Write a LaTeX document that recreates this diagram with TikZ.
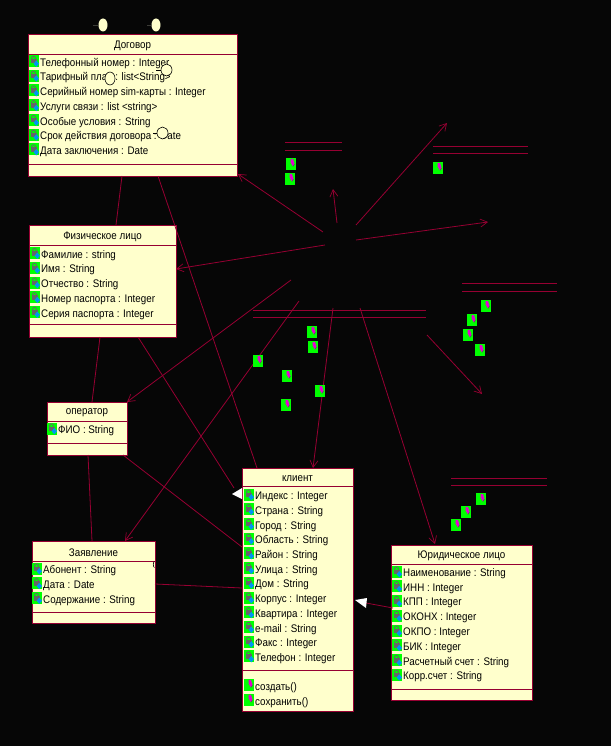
\documentclass[tikz,border=0pt]{standalone}
\usepackage{fontspec}
\setmainfont[FakeStretch=0.89]{Liberation Sans}
\usetikzlibrary{arrows.meta}
\definecolor{bgc}{RGB}{6,6,6}
\definecolor{linec}{RGB}{150,0,50}
\definecolor{boxc}{RGB}{255,255,204}
\definecolor{iconc}{RGB}{0,255,0}
\definecolor{magc}{RGB}{230,0,210}
\definecolor{bluec}{RGB}{0,150,240}
\definecolor{stemc}{RGB}{60,60,55}
\newcommand{\rowfont}{\fontsize{11}{12}\selectfont}
\tikzset{
  classbox/.style={draw=linec,fill=boxc,line width=0.9pt,anchor=north west,inner sep=0pt,outer sep=0pt},
  rowtext/.style={anchor=west,inner sep=0pt,text=black,font=\rowfont},
  titletext/.style={anchor=center,inner sep=0pt,text=black,font=\rowfont},
  conn/.style={draw=linec,line width=0.8pt},
  openarrow/.style={conn,-{Straight Barb[length=7pt,width=8pt,line width=0.7pt]}},
  sepline/.style={conn},
  iconbg/.style={fill=iconc,draw=none},
  interface/.style={draw=black,fill=boxc,line width=0.6pt},
  topiface/.style={draw=none,fill=boxc},
}
% class: name, x, y, width, height, sep1, sep2, title
\newcommand{\umlclass}[8]{%
  \node[classbox,minimum width=#4pt,minimum height=#5pt] (#1) at (#2,#3) {};
  \draw[sepline] (#2,#6) -- ++(#4,0);
  \draw[sepline] (#2,#7) -- ++(#4,0);
  \node[titletext] (#1title) at ({#2+#4/2},{(#3+#6)/2+1.5}) {#8};
}
\newcommand{\attricon}[2]{%
  \fill[iconbg] (#1,#2-7.5) rectangle ++(10,12);
  \fill[black!60] (#1+1.5,#2-3.5) rectangle ++(6,4.5);
  \draw[black!60,line width=0.8pt] (#1+4.5,#2-4.2) circle (2);
  \fill[bluec] (#1+7.3,#2-2) -- ++(2.7,3.2) -- ++(-2.7,3.2) -- ++(-2.7,-3.2) -- cycle;
}
\newcommand{\opicon}[2]{%
  \fill[iconbg] (#1,#2-6) rectangle ++(10,12);
  \fill[magc] (#1+4.5,#2-5) -- ++(2.5,0) -- ++(1.5,5) -- ++(-1.5,2.5) -- ++(-2.5,-4) -- cycle;
  \draw[black!70,line width=0.4pt] (#1+8.5,#2) -- ++(-1.5,2.5);
}
% rows: name, text x, first y, step, list
\newcommand{\attrrows}[5]{%
  \foreach \t [count=\i from 0] in {#5} {
    \attricon{#2-11}{#3+#4*\i}
    \node[rowtext] (#1row\i) at (#2,{#3+#4*\i+0.8}) {\t};
  }
}
\newcommand{\oprows}[5]{%
  \foreach \t [count=\i from 0] in {#5} {
    \opicon{#2-11}{#3+#4*\i-2}
    \node[rowtext] (#1row\i) at (#2,{#3+#4*\i+0.8}) {\t};
  }
}
\begin{document}
\begin{tikzpicture}[x=1pt,y=-1pt]
\fill[bgc] (0,0) rectangle (611,746);
\useasboundingbox (0,0) rectangle (611,746);

% free connector ends
\coordinate (a) at (323,232);
\coordinate (b) at (337,223);
\coordinate (bt) at (333,189);
\coordinate (c) at (356,225);
\coordinate (ct) at (447,123);
\coordinate (d) at (356,240);
\coordinate (dt) at (488,222);
\coordinate (e) at (325,245);
\coordinate (f) at (291,280);
\coordinate (g) at (299,301);
\coordinate (h) at (333,308);
\coordinate (i) at (360,308);
\coordinate (j) at (427,335);
\coordinate (jt) at (482,394);

\umlclass{dog}{28}{34}{209}{142}{54}{164}{Договор}
\umlclass{fiz}{29}{225}{147}{112}{245}{324}{Физическое лицо}
\umlclass{oper}{47}{402}{80}{53}{421}{443}{оператор}
\umlclass{zay}{32}{541}{123}{82}{561}{612}{Заявление}
\umlclass{kli}{242}{468}{111}{243}{486}{670}{клиент}
\umlclass{yur}{391}{545}{141}{155}{564}{689}{Юридическое лицо}

% connectors between the boxes
\draw[conn] ([xshift=94pt]dog.south west) -- ([xshift=87pt]fiz.north west);
\draw[conn] ([xshift=130pt]dog.south west) -- ([xshift=15pt]kli.north west);
\draw[conn] ([xshift=71pt]fiz.south west) -- ([xshift=45pt]oper.north west);
\draw[conn] ([xshift=109pt]fiz.south west) -- (234,488);
\draw[conn] ([xshift=41pt]oper.south west) -- ([xshift=60pt]zay.north west);
\draw[conn] ([xshift=76pt]oper.south west) -- ([yshift=-79pt]kli.north west);
\draw[conn] ([yshift=39pt]zay.south east) -- (177,585) -- ([yshift=-120pt]kli.north west);

\attrrows{dog}{40}{62.5}{14.75}{Телефонный номер : Integer,Тарифный план : list<String>,Серийный номер sim-карты : Integer,Услуги связи :  list <string>,Особые условия : String,Срок действия договора : Date,Дата заключения : Date}
\attrrows{fiz}{41}{254.5}{14.75}{Фамилие : string,Имя : String,Отчество : String,Номер паспорта : Integer,Серия паспорта : Integer}
\attrrows{oper}{58}{430}{14.75}{ФИО : String}
\attrrows{zay}{43}{570}{14.75}{Абонент : String,Дата : Date,Содержание : String}
\attrrows{kli}{255}{496}{14.72}{Индекс : Integer,Страна : String,Город : String,Область : String,Район : String,Улица : String,Дом : String,Корпус : Integer,Квартира : Integer,e-mail : String,Факс : Integer,Телефон : Integer}
\oprows{klo}{255}{687}{14.75}{создать(),сохранить()}
\attrrows{yur}{403}{573}{14.75}{Наименование : String,ИНН : Integer,КПП : Integer,ОКОНХ : Integer,ОКПО : Integer,БИК : Integer,Расчетный счет : String,Корр.счет : String}

% open arrows
\draw[openarrow] (a) -- ([xshift=1pt,yshift=2pt]dog.south east);
\draw[openarrow] (b) -- (bt);
\draw[openarrow] (c) -- (ct);
\draw[openarrow] (d) -- (dt);
\draw[openarrow] (e) -- ([yshift=68pt]fiz.south east);
\draw[openarrow] (f) -- (oper.north east);
\draw[openarrow] (g) -- ([xshift=93pt]zay.north west);
\draw[openarrow] (h) -- ([xshift=71pt]kli.north west);
\draw[openarrow] (i) -- ([xshift=44pt,yshift=1pt]yur.north west);
\draw[openarrow] (j) -- (jt);

% white generalisation heads
\fill[white] (232,494) -- (242,488) -- (242,499) -- cycle;
\draw[conn] ([xshift=2pt,yshift=92pt]yur.south west) -- (366,603);
\fill[white] (355,600) -- (367,598) -- (366,608) -- cycle;

% double lines
\foreach \xa/\xb/\ya/\yb in {285/342/142/150,433/528/146/153,462/557/283/291,253/426/310/317,451/547/478/485}{
  \draw[sepline] (\xa,\ya) -- (\xb,\ya);
  \draw[sepline] (\xa,\yb) -- (\xb,\yb);
}
% free operation icons
\foreach \x/\y in {286/164,285/179,433/168,481/306,467/320,463/335,475/350,307/332,308/347,253/361,282/376,315/391,281/405,476/499,461/512,451/525}{
  \opicon{\x}{\y}
}

% interface marks
\fill[topiface] (103,25) ellipse (4.5 and 6.5);
\draw[stemc,line width=0.6pt] (93,25) -- (98,25);
\fill[topiface] (156,25) ellipse (4.5 and 6.5);
\draw[stemc,line width=0.6pt] (147,25) -- (151,25);
\draw[black,line width=0.6pt] (156,70) -- (161,70);
\draw[interface] (166.5,70) ellipse (5.5 and 6);
\draw[interface] (110,78.5) ellipse (5 and 6.5);
\draw[black,line width=0.6pt] (153,133) -- (157,133);
\draw[interface] (162.5,133) ellipse (5.5 and 6);
\draw[black,line width=0.6pt] (154.5,567.5) arc (90:270:1.2 and 3);
\end{tikzpicture}
\end{document}
